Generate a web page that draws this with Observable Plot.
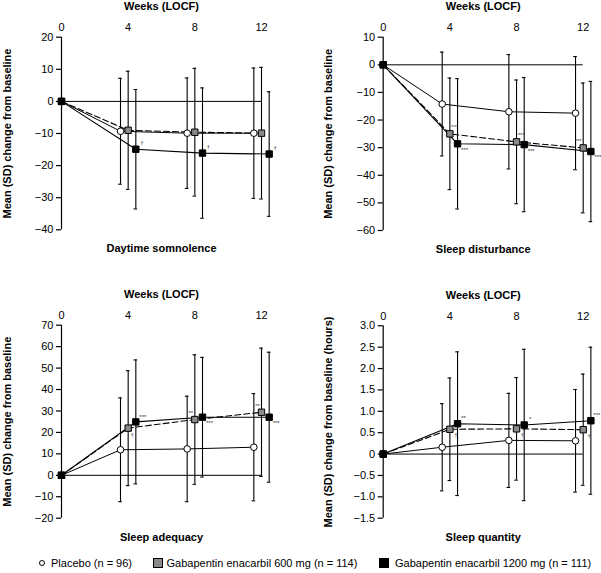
<!DOCTYPE html>
<html>
<head>
<meta charset="utf-8">
<script src="https://cdn.jsdelivr.net/npm/d3@7"></script>
<script src="https://cdn.jsdelivr.net/npm/@observablehq/plot@0.6"></script>
<style>
  body { margin: 0; background: #fff; font-family: "Liberation Sans", Arial, Helvetica, sans-serif; }
  #wrap { position: relative; width: 601px; height: 573px; overflow: hidden; }
  .panel { position: absolute; }
  .lg { position: absolute; font-size: 11px; color: #000; white-space: nowrap; line-height: 12px; }
  .ic { position: absolute; box-sizing: border-box; border: 1px solid #000; }
</style>
</head>
<body>
<div id="wrap"></div>
<script>
// ---------------- data ----------------
const weeks = [0, 4, 8, 12];
const seriesNames = ["Placebo (n = 96)", "Gabapentin enacarbil 600 mg (n = 114)", "Gabapentin enacarbil 1200 mg (n = 111)"];
const panelTitles = ["Daytime somnolence", "Sleep disturbance", "Sleep adequacy", "Sleep quantity"];
const xAxisLabel = "Weeks (LOCF)";
const yAxisLabels = ["Mean (SD) change from baseline", "Mean (SD) change from baseline",
                     "Mean (SD) change from baseline", "Mean (SD) change from baseline (hours)"];

// Daytime somnolence
const somnPlaceboMean = [0, -9.3, -9.9, -9.9];
const somnPlaceboSD   = [0, 16.5, 17.2, 20.3];
const somn600Mean     = [0, -9.0, -9.6, -9.9];
const somn600SD       = [0, 18.4, 19.9, 20.5];
const somn1200Mean    = [0, -14.9, -16.1, -16.4];
const somn1200SD      = [0, 18.6, 20.3, 19.4];
const somnPlaceboSig  = ["", "", "", ""];
const somn600Sig      = ["", "", "", ""];
const somn1200Sig     = ["", "†", "†", "†"];
const somnTicks       = [-40, -30, -20, -10, 0, 10, 20];

// Sleep disturbance
const distPlaceboMean = [0, -14.2, -17.0, -17.5];
const distPlaceboSD   = [0, 18.8, 20.7, 20.5];
const dist600Mean     = [0, -25.0, -27.9, -30.1];
const dist600SD       = [0, 20.2, 22.4, 23.5];
const dist1200Mean    = [0, -28.6, -28.9, -31.4];
const dist1200SD      = [0, 23.6, 24.3, 25.4];
const distPlaceboSig  = ["", "", "", ""];
const dist600Sig      = ["", "***", "***", "***"];
const dist1200Sig     = ["", "***", "***", "***"];
const distTicks       = [-60, -50, -40, -30, -20, -10, 0, 10];

// Sleep adequacy
const adeqPlaceboMean = [0, 11.9, 12.3, 13.1];
const adeqPlaceboSD   = [0, 24.2, 24.6, 25.0];
const adeq600Mean     = [0, 22.0, 26.0, 29.4];
const adeq600SD       = [0, 26.8, 30.2, 29.9];
const adeq1200Mean    = [0, 24.9, 27.1, 27.1];
const adeq1200SD      = [0, 28.9, 27.9, 30.3];
const adeqPlaceboSig  = ["", "", "", ""];
const adeq600Sig      = ["", "†", "**", "**"];
const adeq1200Sig     = ["", "***", "***", "***"];
const adeqTicks       = [-20, -10, 0, 10, 20, 30, 40, 50, 60, 70];

// Sleep quantity (hours)
const quanPlaceboMean = [0, 0.16, 0.32, 0.31];
const quanPlaceboSD   = [0, 1.02, 1.10, 1.20];
const quan600Mean     = [0, 0.58, 0.59, 0.57];
const quan600SD       = [0, 1.20, 1.20, 1.30];
const quan1200Mean    = [0, 0.71, 0.68, 0.78];
const quan1200SD      = [0, 1.68, 1.77, 1.72];
const quanPlaceboSig  = ["", "", "", ""];
const quan600Sig      = ["", "†", "†", "†"];
const quan1200Sig     = ["", "**", "*", "***"];
const quanTicks       = [-1.5, -1.0, -0.5, 0, 0.5, 1.0, 1.5, 2.0, 2.5, 3.0];

// ---------------- layout / style ----------------
const FONT = '"Liberation Sans", Arial, Helvetica, sans-serif';
const dodge = [-0.46, 0, 0.46];          // horizontal offset of each series (weeks)
const sqFill = ["white", "#8a8a8a", "#000"];
// significance-mark placement: [dx, dy] per panel, series, week index
const sigPos = {
  somn: {2: [[0,0],[6,-6],[6,-6],[6,-6]]},
  dist: {1: [[0,0],[5,-7],[5,-7],[-5,-7]], 2: [[0,0],[7,6],[7,6],[7,6]]},
  adeq: {1: [[0,0],[4,7],[-4,-6],[-4,-6]], 2: [[0,0],[7,-5],[7,6],[7,6]]},
  quan: {1: [[0,0],[6,6],[6,6],[6,6]], 2: [[0,0],[6,-6],[6,-6],[6,-6]]}
};

const panels = [
  {key: "somn", left: 0, top: 0, width: 300, height: 258, x0: 61, yTop: 36.7, yBottom: 229.3,
   domain: [-40, 20], ticks: somnTicks, fmt: d3.format("d"),
   series: [[somnPlaceboMean, somnPlaceboSD, somnPlaceboSig], [somn600Mean, somn600SD, somn600Sig], [somn1200Mean, somn1200SD, somn1200Sig]]},
  {key: "dist", left: 300, top: 0, width: 301, height: 258, x0: 82.7, yTop: 36.7, yBottom: 230,
   domain: [-60, 10], ticks: distTicks, fmt: d3.format("d"),
   series: [[distPlaceboMean, distPlaceboSD, distPlaceboSig], [dist600Mean, dist600SD, dist600Sig], [dist1200Mean, dist1200SD, dist1200Sig]]},
  {key: "adeq", left: 0, top: 258, width: 300, height: 292, x0: 61, yTop: 66.7, yBottom: 259.7,
   domain: [-20, 70], ticks: adeqTicks, fmt: d3.format("d"),
   series: [[adeqPlaceboMean, adeqPlaceboSD, adeqPlaceboSig], [adeq600Mean, adeq600SD, adeq600Sig], [adeq1200Mean, adeq1200SD, adeq1200Sig]]},
  {key: "quan", left: 300, top: 258, width: 301, height: 292, x0: 82.7, yTop: 67.3, yBottom: 259.7,
   domain: [-1.5, 3.0], ticks: quanTicks, fmt: d => d === 0 ? "0" : d3.format(".1f")(d),
   series: [[quanPlaceboMean, quanPlaceboSD, quanPlaceboSig], [quan600Mean, quan600SD, quan600Sig], [quan1200Mean, quan1200SD, quan1200Sig]]}
];

const wrap = document.getElementById("wrap");

panels.forEach((p, pi) => {
  const rows = [];
  p.series.forEach(([mean, sd, sig], si) => {
    mean.forEach((m, i) => {
      const pos = (sigPos[p.key][si] || [])[i] || [0, 0];
      rows.push({series: si, week: weeks[i], x: weeks[i] === 0 ? 0 : weeks[i] + dodge[si],
                 mean: m, sd: sd[i], lo: m - sd[i], hi: m + sd[i], sig: sig[i], sdx: pos[0], sdy: pos[1]});
    });
  });
  const err = rows.filter(d => d.sd > 0);
  const ser = si => rows.filter(d => d.series === si);
  const sigRows = rows.filter(d => d.sig);

  const chart = Plot.plot({
    width: p.width,
    height: p.height,
    marginLeft: p.x0,
    marginTop: p.yTop,
    marginBottom: p.height - p.yBottom,
    marginRight: p.width - p.x0 - 212,
    style: {fontFamily: FONT, fontSize: "11px", background: "transparent", overflow: "visible", color: "#000"},
    x: {domain: [0, 12], range: [p.x0, p.x0 + 200]},
    y: {domain: p.domain, range: [p.yBottom, p.yTop]},
    marks: [
      Plot.ruleY([0], {x1: 0, x2: 12, stroke: "#000", strokeWidth: 1}),
      Plot.ruleX([0], {y1: p.domain[0], y2: p.domain[1], stroke: "#000", strokeWidth: 1.2}),
      Plot.axisY({ticks: p.ticks, tickFormat: p.fmt, tickSize: 5, tickPadding: 3, label: null, strokeWidth: 1.2}),
      Plot.axisX({anchor: "top", ticks: weeks, tickFormat: d3.format("d"), tickSize: 0, tickPadding: 6, label: null}),
      Plot.line(ser(0), {x: "x", y: "mean", stroke: "#000", strokeWidth: 1}),
      Plot.line(ser(1), {x: "x", y: "mean", stroke: "#000", strokeWidth: 1.1, strokeDasharray: "6,3"}),
      Plot.line(ser(2), {x: "x", y: "mean", stroke: "#000", strokeWidth: 1.1}),
      Plot.ruleX(err, {x: "x", y1: "lo", y2: "hi", stroke: "#000", strokeWidth: 1.1}),
      Plot.ruleY(err, {y: "hi", x1: "x", x2: "x", insetLeft: -1.8, insetRight: -1.8, stroke: "#000", strokeWidth: 1.1}),
      Plot.ruleY(err, {y: "lo", x1: "x", x2: "x", insetLeft: -1.8, insetRight: -1.8, stroke: "#000", strokeWidth: 1.1}),
      Plot.dot(ser(0), {x: "x", y: "mean", r: 3.3, fill: "white", stroke: "#000", strokeWidth: 1}),
      Plot.dot(ser(1).concat(ser(2)), {x: "x", y: "mean", symbol: "square", r: 3.6,
               fill: d => sqFill[d.series], stroke: "#000", strokeWidth: 1}),
      ...sigRows.map(d => Plot.text([d], {x: "x", y: "mean", text: "sig", dx: d.sdx, dy: d.sdy,
               fontSize: 6, fill: "#333", textAnchor: "middle", lineAnchor: "middle"})),
      Plot.text([xAxisLabel], {x: 6, frameAnchor: "top", dy: -30.5, fontWeight: "bold", fontSize: 11,
               textAnchor: "middle", lineAnchor: "middle"}),
      Plot.text([panelTitles[pi]], {x: 6, frameAnchor: "bottom", dy: 19, fontWeight: "bold", fontSize: 11,
               textAnchor: "middle", lineAnchor: "middle"}),
      Plot.text([yAxisLabels[pi]], {frameAnchor: "left", rotate: -90, dx: -54.3, fontWeight: "bold", fontSize: 11,
               textAnchor: "middle", lineAnchor: "middle"})
    ]
  });
  chart.classList.add("panel");
  chart.style.left = p.left + "px";
  chart.style.top = p.top + "px";
  wrap.appendChild(chart);
});

// ---------------- legend ----------------
const lgY = 557;
const legendItems = [
  {icon: {left: 38.5, top: lgY + 2.5, w: 6.5, h: 6.5, bg: "#fff", round: true}, textLeft: 51},
  {icon: {left: 153, top: lgY + 0.5, w: 10, h: 10, bg: sqFill[1]}, textLeft: 166.5},
  {icon: {left: 379, top: lgY + 0.5, w: 10, h: 10, bg: sqFill[2]}, textLeft: 395}
];
legendItems.forEach((it, i) => {
  const ic = document.createElement("div");
  ic.className = "ic";
  Object.assign(ic.style, {left: it.icon.left + "px", top: it.icon.top + "px", width: it.icon.w + "px",
    height: it.icon.h + "px", background: it.icon.bg, borderRadius: it.icon.round ? "50%" : "0"});
  wrap.appendChild(ic);
  const t = document.createElement("div");
  t.className = "lg";
  t.style.left = it.textLeft + "px";
  t.style.top = (lgY) + "px";
  t.textContent = seriesNames[i];
  wrap.appendChild(t);
});
</script>
</body>
</html>
